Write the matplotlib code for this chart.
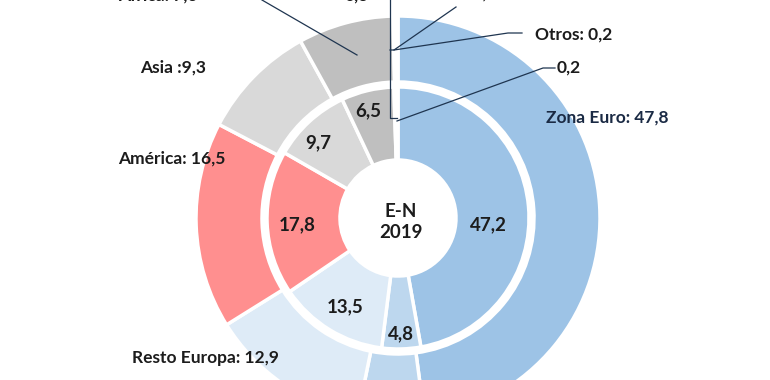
import matplotlib.pyplot as plt

# outer ring (clockwise from the top)
outer_labels = ["Zona Euro", "Reino Unido", "Resto Europa", "América", "Asia", "África", "Oceanía", "Otros"]
outer_values = [47.8, 5.3, 12.9, 16.5, 9.3, 7.6, 0.2, 0.2]
# inner ring
inner_values = [47.2, 4.8, 13.5, 17.8, 9.7, 6.5, 0.3, 0.2]
inner_texts = ["47,2", "4,8", "13,5", "17,8", "9,7", "6,5", "", ""]

colors = ["#9dc3e6", "#bdd7ee", "#deebf7", "#ff8f8f", "#d9d9d9", "#bfbfbf", "#e4e4e4", "#e4e4e4"]

W, H = 770, 380
cx, cy = 398, 218


def P(x, y):
    # picture pixels (y down) -> data coords (y up)
    return x, H - y


fig = plt.figure(figsize=(7.7, 3.8), dpi=100)
ax = fig.add_axes([0, 0, 1, 1])

wp = dict(edgecolor="white", linewidth=2.5)
ax.pie(outer_values, radius=202, center=P(cx, cy), startangle=90, counterclock=False,
       colors=colors, wedgeprops=dict(width=66, **wp))
ax.pie(inner_values, radius=131, center=P(cx, cy), startangle=90, counterclock=False,
       colors=colors, wedgeprops=dict(width=73, **wp))

ax.set_xlim(0, W)
ax.set_ylim(0, H)
ax.set_aspect("equal")
ax.axis("off")

font = dict(family="Lato", fontweight="bold", fontsize=12.5, color="#1c1c1c")
big = dict(font, fontsize=13.5)

# inner ring values
inner_pos = [(488, 225), (401, 334), (345, 307), (297, 225), (318, 143), (368, 111)]
for (x, y), t in zip(inner_pos, inner_texts):
    ax.text(*P(x, y), t, ha="center", va="center", **big)

ax.text(*P(401, 222), "E-N\n2019", ha="center", va="center", linespacing=1.25, **big)

# outer labels
ax.text(*P(546, 118), "Zona Euro: 47,8", ha="left", va="center", **dict(font, color="#1a2a44"))
ax.text(*P(132, 358), "Resto Europa: 12,9", ha="left", va="center", **font)
ax.text(*P(118, 159), "América: 16,5", ha="left", va="center", **font)
ax.text(*P(140, 68), "Asia :9,3", ha="left", va="center", **font)
ax.text(*P(118, -6), "África: 7,6", ha="left", va="center", **font)
ax.text(*P(400, -6), "Oceanía: 0,2", ha="left", va="center", **font)
ax.text(*P(535, 35), "Otros: 0,2", ha="left", va="center", **font)
ax.text(*P(345, -4), "0,3", ha="left", va="center", **font)
ax.text(*P(557, 68), "0,2", ha="left", va="center", **font)
ax.text(*P(563, 389), "ZNTE S", ha="left", va="center", **font)

# leader lines
line = dict(color="#1f3550", linewidth=0.9)
ax.plot(*zip(P(262, 0), P(357, 55)), **line)
ax.plot(*zip(P(390, 0), P(390, 118), P(397, 118)), **line)
ax.plot(*zip(P(390, 50), P(394, 50), P(456, 7)), **line)
ax.plot(*zip(P(394, 50), P(508, 33), P(522, 33)), **line)
ax.plot(*zip(P(397, 121), P(543, 68), P(555, 68)), **line)

fig.savefig("out.png", dpi=100)
